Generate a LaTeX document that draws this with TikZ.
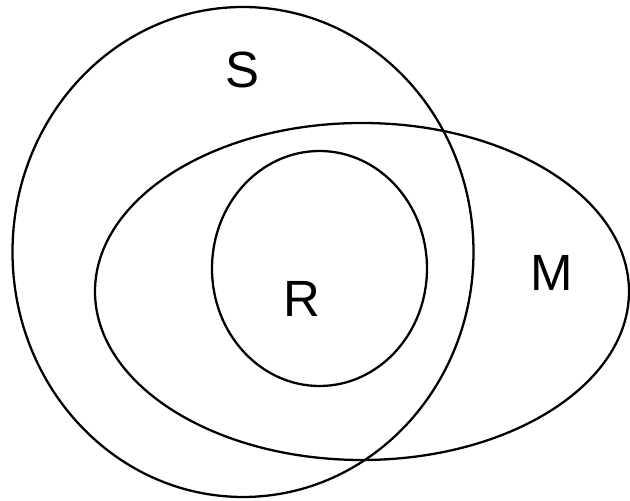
\documentclass[tikz,border=0pt]{standalone}
\usepackage{fontspec}
\setmainfont{Liberation Sans}
\usepackage{tikz}
\usetikzlibrary{calc,positioning}
\tikzset{
  setline/.style={black,line width=1.3pt},
  lbl/.style={font=\fontsize{29}{34}\selectfont,inner sep=0pt}
}
\begin{document}
\begin{tikzpicture}
\useasboundingbox (0,0) rectangle (12.6,10.02);
\coordinate (S) at (4.86,4.98); \coordinate (M) at (7.24,4.19); \coordinate (R) at (6.39,4.65);
\draw[setline] (S) ellipse [x radius=4.61,y radius=4.90];
\draw[setline] (M) ellipse [x radius=5.34,y radius=3.37];
\draw[setline] (R) ellipse [x radius=2.15,y radius=2.35];
\node[lbl] (labS) at (4.84,8.62) {S};
\node[lbl] (labR) at (6.04,4.04) {R};
\node[lbl] (labM) at (11.04,4.56) {M};
\end{tikzpicture}
\end{document}
